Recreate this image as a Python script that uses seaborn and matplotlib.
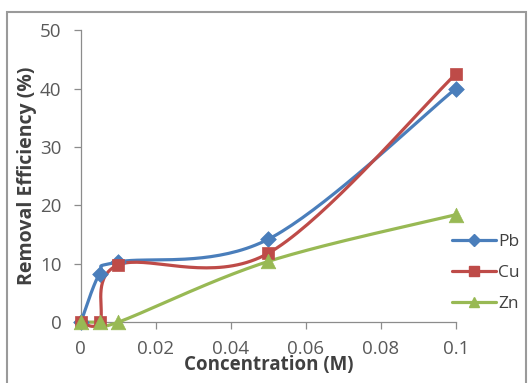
import numpy as np
import pandas as pd
import matplotlib
matplotlib.use("Agg")
import matplotlib.pyplot as plt
from matplotlib.lines import Line2D
import seaborn as sns

# Concentration levels (M) and removal efficiency (%) per metal
concentration = [0.0, 0.005, 0.01, 0.05, 0.1]
pb_removal = [0.0, 8.3, 10.3, 14.2, 40.0]
cu_removal = [0.0, 0.0, 9.8, 11.8, 42.5]
zn_removal = [0.0, 0.0, 0.0, 10.4, 18.4]

metals = ["Pb", "Cu", "Zn"]
colors = {"Pb": "#4A7EBB", "Cu": "#BE4B48", "Zn": "#98B954"}
markers = {"Pb": "D", "Cu": "s", "Zn": "^"}
msizes = {"Pb": 8, "Cu": 9, "Zn": 10.5}

x_ticks = [0, 0.02, 0.04, 0.06, 0.08, 0.1]
x_ticklabels = ["0", "0.02", "0.04", "0.06", "0.08", "0.1"]
y_ticks = [0, 10, 20, 30, 40, 50]

sns.set_theme(style="white")
plt.rcParams["font.family"] = ["Open Sans", "DejaVu Sans"]

FIG_W, FIG_H = 5.32, 3.83
AX_RECT = [0.152, 0.159, 0.705, 0.7624]


def smooth(xs, ys, scale, n=40):
    """Catmull-Rom style Bezier smoothing, computed in screen proportions."""
    p = np.column_stack([xs, ys]).astype(float) * scale
    ext = np.vstack([p[0], p, p[-1]])
    out = []
    t = np.linspace(0, 1, n)[:, None]
    for i in range(len(p) - 1):
        p0, p1, p2, p3 = ext[i], ext[i + 1], ext[i + 2], ext[i + 3]
        c1 = p1 + (p2 - p0) / 6.0
        c2 = p2 - (p3 - p1) / 6.0
        seg = ((1 - t) ** 3) * p1 + 3 * ((1 - t) ** 2) * t * c1 + 3 * (1 - t) * t ** 2 * c2 + t ** 3 * p2
        out.append(seg if i == 0 else seg[1:])
    res = np.vstack(out) / scale
    return res[:, 0], res[:, 1]


fig = plt.figure(figsize=(FIG_W, FIG_H), dpi=100)
ax = fig.add_axes(AX_RECT)

xmax, ymax = 0.1, 50
# pixels per data unit along each axis
scale = np.array([AX_RECT[2] * FIG_W * 100 / xmax, AX_RECT[3] * FIG_H * 100 / ymax])

series = {"Pb": pb_removal, "Cu": cu_removal, "Zn": zn_removal}
for m in metals:
    sx, sy = smooth(concentration, series[m], scale)
    curve = pd.DataFrame({"x": sx, "y": sy})
    sns.lineplot(data=curve, x="x", y="y", sort=False, ax=ax, color=colors[m],
                 linewidth=2.3, clip_on=False, zorder=3)
for m in metals:
    pts = pd.DataFrame({"x": concentration, "y": series[m]})
    sns.scatterplot(data=pts, x="x", y="y", ax=ax, color=colors[m], marker=markers[m],
                    s=msizes[m] ** 2, edgecolor=colors[m], linewidth=0.5,
                    clip_on=False, zorder=4)

ax.set_xlim(0, xmax)
ax.set_ylim(0, ymax)
ax.set_xticks(x_ticks)
ax.set_xticklabels(x_ticklabels)
ax.set_yticks(y_ticks)

for side in ["top", "right"]:
    ax.spines[side].set_visible(False)
for side in ["left", "bottom"]:
    ax.spines[side].set_color("#8C8C8C")
    ax.spines[side].set_linewidth(0.9)

ax.tick_params(axis="both", which="major", direction="out", length=5, width=0.9,
               color="#8C8C8C", labelsize=13.5, labelcolor="#595959",
               bottom=True, left=True)
ax.tick_params(axis="x", pad=8)
ax.tick_params(axis="y", pad=9)

ax.set_xlabel("Concentration (M)", fontsize=13.5, fontweight="bold", color="#404040", labelpad=-2)
ax.set_ylabel("Removal Efficiency (%)", fontsize=14, fontweight="bold", color="#404040", labelpad=2)

handles = [Line2D([0], [0], color=colors[m], linewidth=2.3, marker=markers[m],
                  markersize=msizes[m] * 0.75, markeredgecolor=colors[m]) for m in metals]
fig.legend(handles, metals, loc="center left", bbox_to_anchor=(0.834, 0.288),
           frameon=False, fontsize=12.5, handlelength=2.5, handletextpad=0.15,
           labelspacing=0.85, borderpad=0, labelcolor="#404040")

# chart border
border = plt.Rectangle((0.013, -0.05), 0.975, 1.019, transform=fig.transFigure,
                       fill=False, edgecolor="#9A9A9A", linewidth=1.5)
fig.patches.append(border)

fig.savefig("out.png", dpi=100)
